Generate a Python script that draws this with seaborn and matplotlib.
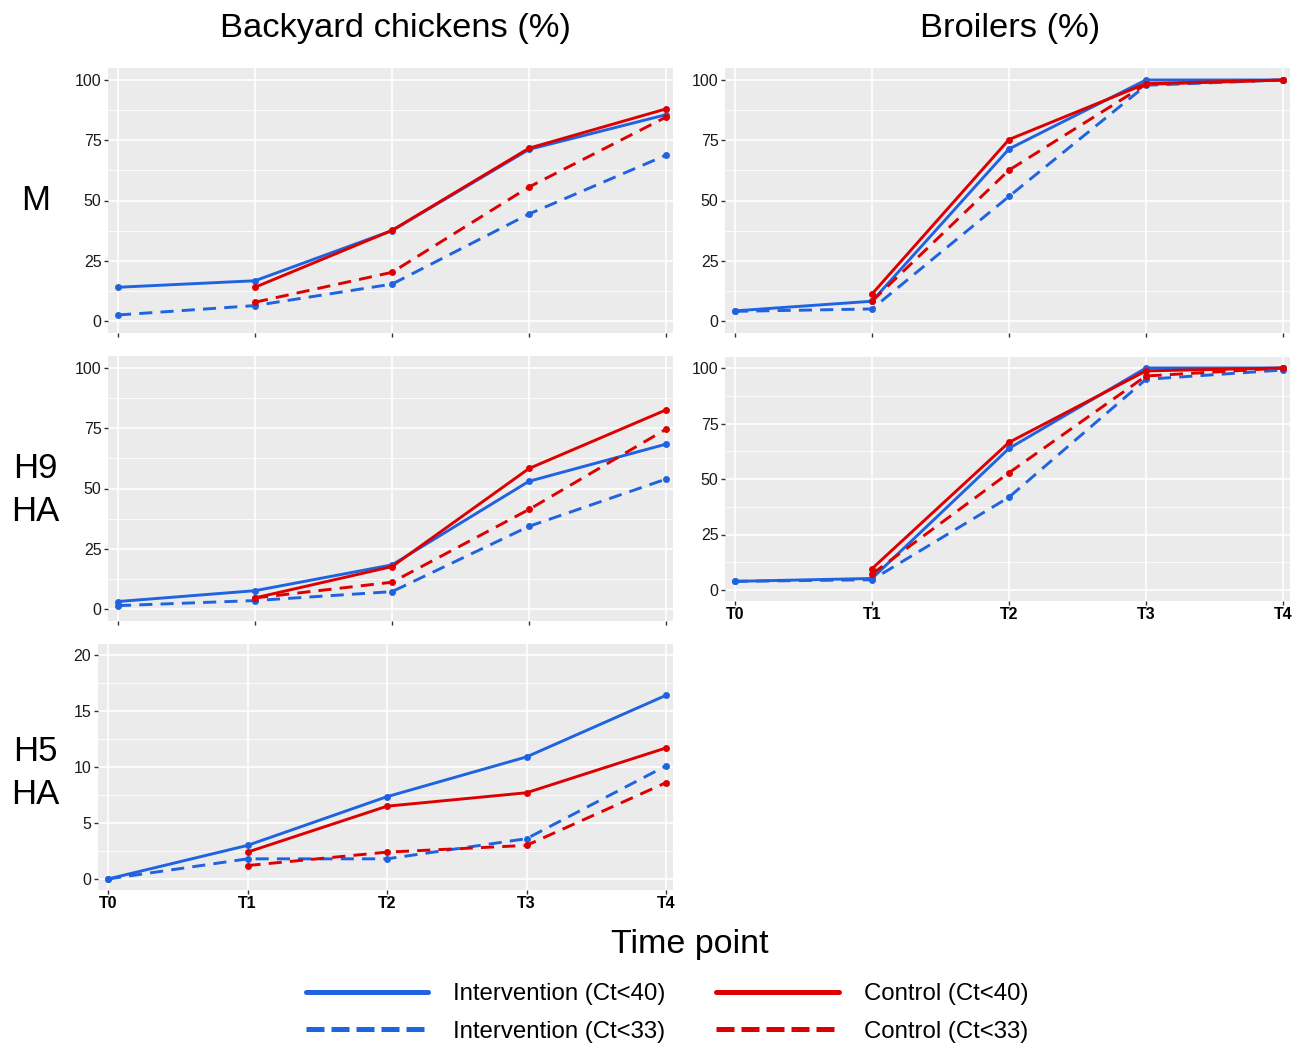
import numpy as np
import pandas as pd
import matplotlib.pyplot as plt
import seaborn as sns
from matplotlib.ticker import MultipleLocator
from matplotlib.lines import Line2D

# time points
times = ['T0', 'T1', 'T2', 'T3', 'T4']
nan = np.nan

# backyard chickens, M
by_m_int40 = [14, 16.7, 37.5, 71.2, 85.6]
by_m_int33 = [2.5, 6.4, 15.3, 44.4, 68.8]
by_m_ctl40 = [nan, 14, 37.6, 71.7, 88]
by_m_ctl33 = [nan, 7.8, 20.2, 55.6, 84.6]

# broilers, M
br_m_int40 = [4.2, 8.2, 71.4, 100, 100]
br_m_int33 = [4, 5, 51.7, 97.8, 100]
br_m_ctl40 = [nan, 11.2, 75.3, 98.5, 100]
br_m_ctl33 = [nan, 8.2, 62.6, 98.2, 100]

# backyard chickens, H9 HA
by_h9_int40 = [3.1, 7.6, 18.3, 53, 68.4]
by_h9_int33 = [1.4, 3.5, 7.2, 34.3, 53.9]
by_h9_ctl40 = [nan, 4.6, 17.6, 58.3, 82.6]
by_h9_ctl33 = [nan, 4.6, 11.1, 41.3, 74.6]

# broilers, H9 HA
br_h9_int40 = [3.9, 5.2, 63.8, 100, 100]
br_h9_int33 = [3.9, 4.6, 41.8, 94.9, 99.1]
br_h9_ctl40 = [nan, 9.6, 66.5, 98.7, 100]
br_h9_ctl33 = [nan, 7.2, 52.8, 96.4, 100]

# backyard chickens, H5 HA
by_h5_int40 = [0, 3.0, 7.35, 10.9, 16.4]
by_h5_int33 = [0, 1.8, 1.8, 3.6, 10.1]
by_h5_ctl40 = [nan, 2.4, 6.5, 7.7, 11.7]
by_h5_ctl33 = [nan, 1.2, 2.4, 3.0, 8.6]

BLUE = '#1F63E0'
RED = '#DE0000'


def panel_frame(int40, int33, ctl40, ctl33):
    rows = []
    for arm, ct, vals in [('Intervention', 'Ct<40', int40), ('Intervention', 'Ct<33', int33),
                          ('Control', 'Ct<40', ctl40), ('Control', 'Ct<33', ctl33)]:
        for i, v in enumerate(vals):
            if not np.isnan(v):
                rows.append({'x': i, 'value': v, 'arm': arm, 'ct': ct})
    return pd.DataFrame(rows)


sns.set_theme(style='darkgrid', rc={'axes.facecolor': '#EBEBEB', 'grid.color': 'white'})
plt.rcParams['font.family'] = ['Liberation Sans', 'DejaVu Sans']
plt.rcParams['text.color'] = 'black'

W, H = 1301, 1046
fig = plt.figure(figsize=(W / 100, H / 100), dpi=100)


def add_panel(px_t0, px_t4, px_top_val, px_zero, ymax, data, show_x):
    unit = (px_t4 - px_t0) / 4
    xlo, xhi = -0.075, 4.05
    left = px_t0 + xlo * unit
    right = px_t0 + xhi * unit
    yunit = (px_zero - px_top_val) / ymax
    pad = ymax * 0.05
    top = px_top_val - pad * yunit
    bottom = px_zero + pad * yunit
    ax = fig.add_axes([left / W, 1 - bottom / H, (right - left) / W, (bottom - top) / H])
    sns.lineplot(data=data, x='x', y='value', hue='arm', style='ct',
                 hue_order=['Intervention', 'Control'], style_order=['Ct<40', 'Ct<33'],
                 palette={'Intervention': BLUE, 'Control': RED},
                 dashes={'Ct<40': '', 'Ct<33': (4.5, 2.8)},
                 markers={'Ct<40': 'o', 'Ct<33': 'o'},
                 markersize=5, markeredgewidth=0, linewidth=2.1,
                 errorbar=None, legend=False, ax=ax)
    ax.set_xlim(xlo, xhi)
    ax.set_ylim(-pad, ymax + pad)
    ax.set_xticks(range(5))
    step = ymax / 4 if ymax == 100 else 5
    ax.yaxis.set_major_locator(MultipleLocator(step))
    ax.yaxis.set_minor_locator(MultipleLocator(step / 2))
    ax.grid(which='major', color='white', linewidth=1.2)
    ax.grid(which='minor', axis='y', color='white', linewidth=0.6)
    ax.set_axisbelow(True)
    ax.tick_params(which='minor', length=0)
    ax.tick_params(which='major', bottom=True, left=True, length=3, width=1,
                   color='#333333', pad=1.5)
    ax.tick_params(axis='y', labelsize=11.5, labelcolor='#1a1a1a')
    if show_x:
        ax.set_xticklabels(times, fontsize=11.5, fontweight='bold', color='black')
    else:
        ax.set_xticklabels([])
    ax.set_xlabel('')
    ax.set_ylabel('')
    for s in ax.spines.values():
        s.set_visible(False)
    return ax


add_panel(118, 666, 80, 321, 100, panel_frame(by_m_int40, by_m_int33, by_m_ctl40, by_m_ctl33), False)
add_panel(735, 1283, 80, 321, 100, panel_frame(br_m_int40, br_m_int33, br_m_ctl40, br_m_ctl33), False)
add_panel(118, 666, 368, 609, 100, panel_frame(by_h9_int40, by_h9_int33, by_h9_ctl40, by_h9_ctl33), False)
add_panel(735, 1283, 368, 590, 100, panel_frame(br_h9_int40, br_h9_int33, br_h9_ctl40, br_h9_ctl33), True)
add_panel(108, 666, 655, 879, 20, panel_frame(by_h5_int40, by_h5_int33, by_h5_ctl40, by_h5_ctl33), True)

# titles and row labels
fig.text(395 / W, 1 - 28 / H, 'Backyard chickens (%)', fontsize=24.8, ha='center', va='center')
fig.text(1010 / W, 1 - 28 / H, 'Broilers (%)', fontsize=24.8, ha='center', va='center')
fig.text(36 / W, 1 - 201 / H, 'M', fontsize=25, ha='center', va='center')
fig.text(35 / W, 1 - 490 / H, 'H9\nHA', fontsize=25, ha='center', va='center', linespacing=1.4)
fig.text(35 / W, 1 - 773 / H, 'H5\nHA', fontsize=25, ha='center', va='center', linespacing=1.4)
fig.text(690 / W, 1 - 945 / H, 'Time point', fontsize=24.5, ha='center', va='center')

handles = [
    Line2D([], [], color=BLUE, lw=3.6),
    Line2D([], [], color=BLUE, lw=3.6, dashes=(3.6, 1.4)),
    Line2D([], [], color=RED, lw=3.6),
    Line2D([], [], color=RED, lw=3.6, dashes=(3.6, 1.4)),
]
labels = ['Intervention (Ct<40)', 'Intervention (Ct<33)', 'Control (Ct<40)', 'Control (Ct<33)']
fig.legend(handles, labels, ncol=2, loc='center', bbox_to_anchor=(667 / W, 1 - 1013 / H),
           frameon=False, fontsize=17.3, handlelength=5.1, handletextpad=1.04,
           columnspacing=2.1, labelspacing=0.65, labelcolor='black')

fig.savefig('out.png', dpi=100)
